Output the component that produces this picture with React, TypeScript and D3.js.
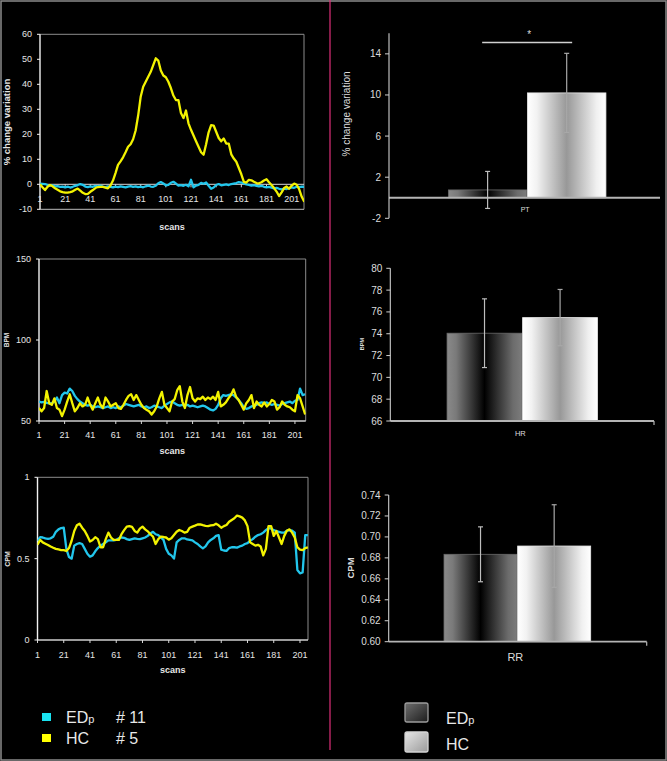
import React from 'react';
import * as d3 from 'd3';

const W = 667;
const H = 761;
const FONT = "'Liberation Sans', Arial, Helvetica, sans-serif";
const CYAN = '#22c6ec';
const YELLOW = '#f2f200';
const SCAN_STEP = 2; // values below are read every 2nd scan, starting at scan 1

const scanTicks = [1, 21, 41, 61, 81, 101, 121, 141, 161, 181, 201];

// ---- PT (% change variation) ----
const ptEDp = [
  0.3, 0.2, 0.1, -0.3, -0.5, -0.4, -0.8, -0.7, -1.0, -0.9,
  -1.2, -0.9, -1.3, -1.0, -0.6, -0.3, 0.1, -0.2, -0.9, -1.1,
  -0.8, -1.0, -0.6, -0.8, -0.5, -0.9, -1.1, -0.8, -1.0, -1.2,
  -0.9, -1.1, -0.8, -1.0, -1.2, -0.9, -0.7, -1.0, -0.8, -1.1,
  -0.9, -1.2, -0.8, -0.5, -0.9, -1.0, -0.6, 0.4, 0.9, 0.3,
  -0.4, -0.2, 0.6, 1.0, 0.3, -0.5, -0.3, -0.6, -0.2, -0.8,
  1.8, -1.2, -0.5, -0.2, 0.6, 0.2, 0.7, -0.6, -1.8, -1.3,
  -0.3, 0.1, -0.4, -0.2, 0.0, -0.3, 0.1, 0.3, 0.5, 0.9,
  0.7, 0.3, 0.0, -0.2, -0.5, -0.3, -0.6, -0.8, -0.6, -1.0,
  -1.2, -1.0, -1.3, -1.6, -1.4, -1.8, -2.0, -1.7, -1.9, -1.5,
  -1.2, -1.4, -1.0, -1.1, -0.9, -1.0,
];
const ptHC = [
  0, -1.2, -2.3, -1.0, -0.3, -0.8, -1.6, -2.2, -2.8, -3.1,
  -3.3, -3.3, -3.1, -2.8, -2.2, -1.7, -2.5, -3.4, -3.9, -3.8,
  -3.0, -2.3, -1.5, -1.1, -1.0, -1.0, -1.3, -1.6, -0.5, 1.5,
  4.5, 7.8, 9.2, 10.8, 12.8, 15.0, 16.0, 18.0, 21.5, 27.5,
  35.0, 39.0, 41.0, 43.0, 45.0, 47.7, 50.4, 49.5, 45.5, 43.5,
  42.8, 41.0, 38.5, 35.5, 33.7, 33.7, 28.5, 26.5, 29.5, 24.4,
  21.8, 19.5, 17.2, 15.0, 12.8, 11.8, 16.0, 20.8, 23.7, 23.5,
  21.0, 18.5, 17.2, 18.3, 16.3, 16.3, 12.0, 10.3, 9.0, 6.5,
  4.0, 1.0, 0.7, 1.8, 1.6, 1.0, 0.5, 0.4, 0.8, 1.5,
  2.0, 0.8, -0.3, -1.5, -2.9, -4.7, -3.2, -1.5, -0.9, -1.8,
  -0.5, 0.3, -0.2, -2.0, -5.0, -7.0,
];

// ---- HR (BPM) ----
const hrEDp = [
  62, 61.5, 61.8, 61.2, 60.8, 61.0, 62.0, 64.5, 61.0, 66.0,
  67.5, 67.0, 70.0, 68.5, 65.5, 63.5, 62.0, 61.0, 60.0, 59.5,
  60.0, 59.0, 58.5, 59.0, 58.5, 58.0, 58.5, 59.0, 58.0, 58.5,
  58.0, 59.0, 58.5, 59.5, 60.5, 60.0, 59.5, 59.0, 59.5, 60.0,
  59.0, 58.5, 59.0, 58.0, 58.5, 59.5, 59.0, 58.5, 58.0, 59.5,
  60.5, 61.5, 62.0, 61.0, 60.0, 59.5, 60.0, 59.5, 60.0, 59.0,
  59.5, 59.0, 58.5, 59.0, 59.5, 59.0, 58.0, 57.0, 56.5, 57.5,
  60.0, 64.0, 66.0, 65.5, 66.0, 66.5, 66.0, 64.5, 63.0, 61.0,
  58.5, 57.5, 58.0, 59.0, 59.5, 60.0, 61.0, 61.5, 61.0, 61.5,
  60.5, 60.0, 60.5, 60.0, 59.5, 60.5, 61.0, 61.5, 62.0, 61.0,
  62.5, 63.0, 70.0, 66.0, 66.5,
];
const hrHC = [
  58, 56, 58, 68.5, 61, 60, 64, 58, 57, 53,
  57, 62, 66.5, 61, 56, 58, 61, 59, 60, 64.5,
  60, 57, 61, 64.5, 60, 58, 64.5, 62, 59, 60,
  61, 58, 57.5, 60, 63, 65.5, 66.5, 63, 66, 63,
  60, 58, 57, 56, 54, 56, 59, 64, 68, 60,
  58, 56, 62, 63.5, 69, 71.5, 62, 58, 66, 71,
  64, 62, 64, 63.5, 65, 63, 64.5, 63.5, 65, 63,
  68, 59, 60, 61.5, 64, 66, 69.5, 65, 63, 60,
  57, 61, 63, 66, 58, 62, 60, 59, 61.5, 59,
  60.5, 63, 62, 57, 58.5, 62, 60, 59, 58.5, 57,
  56, 66, 64, 59, 54,
];

// ---- RR (CPM) ----
const rrEDp = [
  0.610, 0.632, 0.630, 0.625, 0.622, 0.625, 0.635, 0.665, 0.680, 0.688,
  0.690, 0.560, 0.510, 0.500, 0.580, 0.590, 0.595, 0.590, 0.560, 0.530,
  0.512, 0.520, 0.545, 0.565, 0.580, 0.590, 0.600, 0.612, 0.612, 0.612,
  0.615, 0.625, 0.630, 0.628, 0.620, 0.615, 0.620, 0.625, 0.622, 0.620,
  0.625, 0.630, 0.640, 0.655, 0.665, 0.650, 0.645, 0.630, 0.615, 0.560,
  0.530, 0.520, 0.500, 0.600, 0.615, 0.625, 0.625, 0.618, 0.615, 0.612,
  0.600, 0.590, 0.575, 0.563, 0.575, 0.600, 0.615, 0.625, 0.640, 0.645,
  0.555, 0.550, 0.548, 0.565, 0.570, 0.570, 0.568, 0.575, 0.580, 0.590,
  0.595, 0.610, 0.620, 0.635, 0.645, 0.650, 0.660, 0.675, 0.687, 0.685,
  0.675, 0.670, 0.665, 0.660, 0.660, 0.672, 0.676, 0.672, 0.660, 0.430,
  0.410, 0.415, 0.645, 0.645,
];
const rrHC = [
  0.585, 0.615, 0.600, 0.592, 0.584, 0.575, 0.567, 0.560, 0.557, 0.553,
  0.552, 0.547, 0.565, 0.610, 0.670, 0.705, 0.715, 0.690, 0.670, 0.640,
  0.605, 0.615, 0.632, 0.620, 0.570, 0.570, 0.620, 0.660, 0.630, 0.615,
  0.615, 0.615, 0.650, 0.675, 0.697, 0.700, 0.695, 0.670, 0.660, 0.685,
  0.697, 0.680, 0.668, 0.650, 0.636, 0.590, 0.620, 0.635, 0.633, 0.630,
  0.617, 0.625, 0.645, 0.665, 0.676, 0.670, 0.660, 0.665, 0.690, 0.697,
  0.703, 0.710, 0.711, 0.706, 0.702, 0.700, 0.704, 0.706, 0.715, 0.705,
  0.690, 0.700, 0.707, 0.727, 0.738, 0.748, 0.765, 0.760, 0.752, 0.735,
  0.700, 0.600, 0.590, 0.580, 0.585, 0.575, 0.520, 0.560, 0.700, 0.700,
  0.640, 0.670, 0.630, 0.590, 0.640, 0.672, 0.680, 0.660, 0.630, 0.570,
  0.555, 0.552, 0.565, 0.570,
];

// ---- group means (bar charts) ----
const groups = ['EDp', 'HC'];
const ptMean = [0.76, 10.2];
const ptErr = [1.8, 3.85];
const hrMean = [74.05, 75.48];
const hrErr = [3.15, 2.58];
const rrMean = [0.6834, 0.6913];
const rrErr = [0.0262, 0.0394];

const ptTicksY = [-2, 2, 6, 10, 14];
const hrTicksY = [66, 68, 70, 72, 74, 76, 78, 80];
const rrTicksY = [0.6, 0.62, 0.64, 0.66, 0.68, 0.7, 0.72, 0.74];

type Geo = { l: number; r: number; t: number; b: number };

function LineChart(props: {
  id: string;
  geo: Geo;
  xMax: number;
  yDomain: [number, number];
  yTicks: number[];
  yFmt: (v: number) => string;
  axisAt: number;
  labelY: number;
  scansY: number;
  series: { values: number[]; color: string }[];
  yLabel: { text: string; x: number; y: number; size: number };
}) {
  const { id, geo, xMax, yDomain, yTicks, yFmt, axisAt, labelY, scansY, series, yLabel } = props;
  const x = d3.scaleLinear().domain([1, xMax]).range([geo.l, geo.r]);
  const y = d3.scaleLinear().domain(yDomain).range([geo.b, geo.t]);
  const line = d3
    .line<number>()
    .x((_, i) => x(1 + i * SCAN_STEP))
    .y((v) => y(v));
  const ax = y(axisAt);
  return (
    <g>
      <defs>
        <clipPath id={id}>
          <rect x={geo.l} y={geo.t - 3} width={geo.r - geo.l} height={geo.b - geo.t + 6} />
        </clipPath>
      </defs>
      <line x1={geo.l} x2={geo.r} y1={geo.t} y2={geo.t} stroke="#8c8c8c" strokeWidth={1} />
      <line x1={geo.r} x2={geo.r} y1={geo.t} y2={geo.b} stroke="#8c8c8c" strokeWidth={1} />
      <line x1={geo.l} x2={geo.r} y1={geo.b} y2={geo.b} stroke="#bdbdbd" strokeWidth={1} />
      <line x1={geo.l} x2={geo.r} y1={ax} y2={ax} stroke="#d8d8d8" strokeWidth={1} />
      {scanTicks.map((t) => (
        <line key={t} x1={x(t)} x2={x(t)} y1={ax} y2={ax + 3} stroke="#d8d8d8" strokeWidth={1} />
      ))}
      <line x1={geo.l} x2={geo.l} y1={geo.t} y2={geo.b} stroke="#f2f2f2" strokeWidth={1.4} />
      {yTicks.map((t) => (
        <g key={t}>
          <line x1={geo.l - 3} x2={geo.l} y1={y(t)} y2={y(t)} stroke="#f2f2f2" strokeWidth={1} />
          <text x={geo.l - 8} y={y(t)} dy="0.35em" textAnchor="end" fontSize={9} fill="#e6e6e6">
            {yFmt(t)}
          </text>
        </g>
      ))}
      <g clipPath={`url(#${id})`}>
        {series.map((s, k) => (
          <path
            key={k}
            d={line(s.values) || ''}
            fill="none"
            stroke={s.color}
            strokeWidth={2.3}
            strokeLinejoin="round"
          />
        ))}
      </g>
      {scanTicks.map((t) => (
        <text key={t} x={x(t)} y={labelY} dy="0.35em" textAnchor="middle" fontSize={9} fill="#e6e6e6">
          {t}
        </text>
      ))}
      <text
        x={(geo.l + geo.r) / 2}
        y={scansY}
        dy="0.35em"
        textAnchor="middle"
        fontSize={9}
        fontWeight="bold"
        fill="#e6e6e6"
      >
        scans
      </text>
      <text
        x={yLabel.x}
        y={yLabel.y}
        transform={`rotate(-90, ${yLabel.x}, ${yLabel.y})`}
        textAnchor="middle"
        dominantBaseline="central"
        fontSize={yLabel.size}
        fontWeight="bold"
        fill="#e6e6e6"
      >
        {yLabel.text}
      </text>
    </g>
  );
}

function BarChart(props: {
  geo: Geo & { axisEnd: number; bandEnd: number };
  yDomain: [number, number];
  yTicks: number[];
  yFmt: (v: number) => string;
  baseAt: number;
  cat: string;
  catLabel: { y: number; size: number };
  means: number[];
  errs: number[];
  endTick: boolean;
  yLabel: { text: string; x: number; y: number; size: number; bold: boolean };
  sig?: { at: number; half: number };
}) {
  const { geo, yDomain, yTicks, yFmt, baseAt, cat, catLabel, means, errs, endTick, yLabel, sig } = props;
  const y = d3.scaleLinear().domain(yDomain).range([geo.b, geo.t]);
  const xb = d3.scaleBand().domain([cat]).range([geo.l, geo.bandEnd]).paddingInner(0).paddingOuter(0.377);
  const xs = d3.scaleBand().domain(groups).range([0, xb.bandwidth()]).paddingInner(0.008);
  const base = y(baseAt);
  const x0 = xb(cat) as number;
  const cx = x0 + xb.bandwidth() / 2;
  return (
    <g>
      {groups.map((g, i) => {
        const bx = x0 + (xs(g) as number);
        const top = y(means[i]);
        return (
          <rect
            key={g}
            x={bx}
            y={Math.min(top, base)}
            width={xs.bandwidth()}
            height={Math.abs(base - top)}
            fill={`url(#grad${g})`}
            stroke={g === 'HC' ? '#e8e8e8' : '#6a6a6a'}
            strokeWidth={0.8}
          />
        );
      })}
      <line x1={geo.l} x2={geo.axisEnd} y1={base} y2={base} stroke="#b4b4b4" strokeWidth={1.8} />
      {endTick && <line x1={geo.axisEnd} x2={geo.axisEnd} y1={base} y2={base + 4} stroke="#b4b4b4" strokeWidth={1.2} />}
      <line x1={geo.l} x2={geo.l} y1={geo.b} y2={geo.t} stroke="#cfcfcf" strokeWidth={1.1} />
      {yTicks.map((t) => (
        <g key={t}>
          <line x1={geo.l - 4} x2={geo.l} y1={y(t)} y2={y(t)} stroke="#cfcfcf" strokeWidth={1} />
          <text x={geo.l - 8} y={y(t)} dy="0.35em" textAnchor="end" fontSize={10} fill="#dcdcdc">
            {yFmt(t)}
          </text>
        </g>
      ))}
      {groups.map((g, i) => {
        const ex = x0 + (xs(g) as number) + xs.bandwidth() / 2;
        const y1 = y(means[i] + errs[i]);
        const y2 = y(means[i] - errs[i]);
        return (
          <g key={g} stroke={g === 'HC' ? '#a8a8a8' : '#bdbdbd'} strokeWidth={1.2}>
            <line x1={ex} x2={ex} y1={y1} y2={y2} />
            <line x1={ex - 2.5} x2={ex + 2.5} y1={y1} y2={y1} />
            <line x1={ex - 2.5} x2={ex + 2.5} y1={y2} y2={y2} />
          </g>
        );
      })}
      {sig && (
        <g>
          <line x1={cx - sig.half} x2={cx + sig.half} y1={y(sig.at)} y2={y(sig.at)} stroke="#d0d0d0" strokeWidth={1.5} />
          <text x={cx + 2} y={y(sig.at) - 5} textAnchor="middle" fontSize={10} fill="#dcdcdc">
            *
          </text>
        </g>
      )}
      <text x={cx - 2} y={catLabel.y} dy="0.35em" textAnchor="middle" fontSize={catLabel.size} fill="#dcdcdc">
        {cat}
      </text>
      <text
        x={yLabel.x}
        y={yLabel.y}
        transform={`rotate(-90, ${yLabel.x}, ${yLabel.y})`}
        textAnchor="middle"
        dominantBaseline="central"
        fontSize={yLabel.size}
        fontWeight={yLabel.bold ? 'bold' : 'normal'}
        fill="#dcdcdc"
      >
        {yLabel.text}
      </text>
    </g>
  );
}

export default function App() {
  const fmt0 = (v: number) => String(v);
  const fmt2 = (v: number) => v.toFixed(2);
  return (
    <svg
      width={W}
      height={H}
      viewBox={`0 0 ${W} ${H}`}
      style={{ position: 'absolute', left: 0, top: 0, background: '#000', fontFamily: FONT }}
    >
      <defs>
        <linearGradient id="gradEDp" x1="0" x2="1" y1="0" y2="0">
          <stop offset="0" stopColor="#8a8a8a" />
          <stop offset="0.12" stopColor="#7a7a7a" />
          <stop offset="0.5" stopColor="#000000" />
          <stop offset="0.88" stopColor="#6c6c6c" />
          <stop offset="1" stopColor="#7c7c7c" />
        </linearGradient>
        <linearGradient id="gradHC" x1="0" x2="1" y1="0" y2="0">
          <stop offset="0" stopColor="#ffffff" />
          <stop offset="0.12" stopColor="#f2f2f2" />
          <stop offset="0.5" stopColor="#989898" />
          <stop offset="0.88" stopColor="#f0f0f0" />
          <stop offset="1" stopColor="#ffffff" />
        </linearGradient>
        <linearGradient id="legDark" x1="0" x2="1" y1="0" y2="1">
          <stop offset="0" stopColor="#6e6e6e" />
          <stop offset="1" stopColor="#1c1c1c" />
        </linearGradient>
        <linearGradient id="legLight" x1="0" x2="1" y1="0" y2="1">
          <stop offset="0" stopColor="#e6e6e6" />
          <stop offset="1" stopColor="#9a9a9a" />
        </linearGradient>
      </defs>
      <rect x={0} y={0} width={W} height={H} fill="#000" />
      <rect x={1} y={1} width={W - 2} height={H - 2} fill="none" stroke="#8a8a8a" strokeWidth={1.5} />
      <line x1={330} x2={330} y1={0} y2={750} stroke="#e0307a" strokeWidth={1.2} />

      <LineChart
        id="c1"
        geo={{ l: 40, r: 304, t: 34.3, b: 209.3 }}
        xMax={210.8}
        yDomain={[-10, 60]}
        yTicks={[-10, 0, 10, 20, 30, 40, 50, 60]}
        yFmt={fmt0}
        axisAt={0}
        labelY={199}
        scansY={227}
        series={[
          { values: ptEDp, color: CYAN },
          { values: ptHC, color: YELLOW },
        ]}
        yLabel={{ text: '% change variation', x: 6, y: 122, size: 9.5 }}
      />
      <LineChart
        id="c2"
        geo={{ l: 39, r: 305.7, t: 259, b: 421 }}
        xMax={209.4}
        yDomain={[50, 150]}
        yTicks={[50, 100, 150]}
        yFmt={fmt0}
        axisAt={50}
        labelY={435}
        scansY={451}
        series={[
          { values: hrEDp, color: CYAN },
          { values: hrHC, color: YELLOW },
        ]}
        yLabel={{ text: 'BPM', x: 6, y: 340, size: 6.5 }}
      />
      <LineChart
        id="c3"
        geo={{ l: 37.5, r: 308, t: 477.3, b: 640 }}
        xMax={207.1}
        yDomain={[0, 1]}
        yTicks={[0, 0.5, 1]}
        yFmt={fmt0}
        axisAt={0}
        labelY={655}
        scansY={670}
        series={[
          { values: rrEDp, color: CYAN },
          { values: rrHC, color: YELLOW },
        ]}
        yLabel={{ text: 'CPM', x: 7, y: 559, size: 7 }}
      />

      <BarChart
        geo={{ l: 389, r: 660, t: 33.3, b: 218.3, axisEnd: 660, bandEnd: 665.3 }}
        yDomain={[-2, 16]}
        yTicks={ptTicksY}
        yFmt={fmt0}
        baseAt={0}
        cat="PT"
        catLabel={{ y: 210, size: 7 }}
        means={ptMean}
        errs={ptErr}
        endTick={false}
        yLabel={{ text: '% change variation', x: 346, y: 114, size: 10, bold: false }}
        sig={{ at: 15.1, half: 45 }}
      />
      <BarChart
        geo={{ l: 390.3, r: 654, t: 268.3, b: 421, axisEnd: 654, bandEnd: 654.3 }}
        yDomain={[66, 80]}
        yTicks={hrTicksY}
        yFmt={fmt0}
        baseAt={66}
        cat="HR"
        catLabel={{ y: 433, size: 7.5 }}
        means={hrMean}
        errs={hrErr}
        endTick={true}
        yLabel={{ text: 'BPM', x: 362, y: 344, size: 5.5, bold: true }}
      />
      <BarChart
        geo={{ l: 388.7, r: 646.7, t: 495, b: 641.7, axisEnd: 646.7, bandEnd: 646 }}
        yDomain={[0.6, 0.74]}
        yTicks={rrTicksY}
        yFmt={fmt2}
        baseAt={0.6}
        cat="RR"
        catLabel={{ y: 657, size: 11 }}
        means={rrMean}
        errs={rrErr}
        endTick={true}
        yLabel={{ text: 'CPM', x: 350, y: 568, size: 9.5, bold: true }}
      />

      {/* left legend */}
      <rect x={42} y={713} width={9} height={8} fill="#19e2f0" />
      <rect x={42} y={734} width={9} height={8} fill="#ffff00" />
      <text x={66} y={723} fontSize={16} fill="#e8e8e8">
        ED<tspan fontSize={11}>p</tspan>
      </text>
      <text x={116} y={723} fontSize={16} fill="#e8e8e8">
        # 11
      </text>
      <text x={66} y={744} fontSize={16} fill="#e8e8e8">
        HC
      </text>
      <text x={116} y={744} fontSize={16} fill="#e8e8e8">
        # 5
      </text>

      {/* right legend */}
      <rect x={405} y={703} width={23} height={19} rx={2} fill="url(#legDark)" stroke="#9c9c9c" strokeWidth={1.3} />
      <rect x={405} y={732} width={23} height={20} rx={2} fill="url(#legLight)" stroke="#d4d4d4" strokeWidth={1.3} />
      <text x={446} y={724} fontSize={16} fill="#e8e8e8">
        ED<tspan fontSize={11}>p</tspan>
      </text>
      <text x={446} y={750} fontSize={16} fill="#e8e8e8">
        HC
      </text>
    </svg>
  );
}
